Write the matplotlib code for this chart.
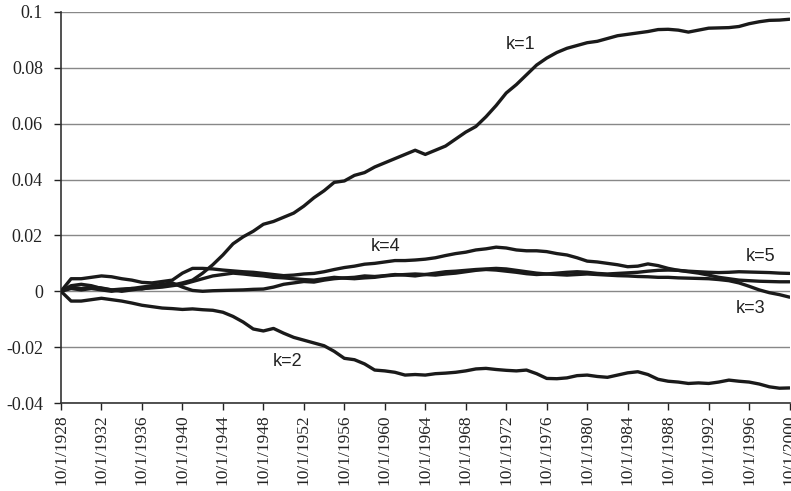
import matplotlib
matplotlib.use("Agg")
import matplotlib.pyplot as plt
from matplotlib import font_manager

# Annual observations, dated October 1 of each year
years = list(range(1928, 2001))

k1 = [0.000, 0.001, 0.0005, 0.001, 0.0005, 0.000, 0.0005, 0.001, 0.0008, 0.0015,
      0.002, 0.0022, 0.003, 0.004, 0.0065, 0.0095, 0.013, 0.017, 0.0195, 0.0215,
      0.024, 0.025, 0.0265, 0.028, 0.0305, 0.0335, 0.036, 0.039, 0.0395, 0.0415,
      0.0425, 0.0445, 0.046, 0.0475, 0.049, 0.0505, 0.049, 0.0505, 0.052, 0.0545,
      0.057, 0.059, 0.0625, 0.0665, 0.071, 0.074, 0.0775, 0.081, 0.0835, 0.0855,
      0.087, 0.088, 0.089, 0.0895, 0.0905, 0.0915, 0.092, 0.0925, 0.093, 0.0937,
      0.0938, 0.0935, 0.0928, 0.0935, 0.0942, 0.0943, 0.0944, 0.0948, 0.0958, 0.0965,
      0.097, 0.0971, 0.0974]

k2 = [0.000, -0.0035, -0.0035, -0.003, -0.0025, -0.003, -0.0035, -0.0042, -0.005, -0.0055,
      -0.006, -0.0062, -0.0065, -0.0063, -0.0066, -0.0068, -0.0075, -0.009, -0.011, -0.0135,
      -0.0142, -0.0133, -0.015, -0.0165, -0.0175, -0.0185, -0.0195, -0.0215, -0.024, -0.0245,
      -0.026, -0.0282, -0.0285, -0.029, -0.030, -0.0298, -0.030, -0.0295, -0.0293, -0.029,
      -0.0285, -0.0278, -0.0276, -0.028, -0.0283, -0.0285, -0.0282, -0.0295, -0.0312, -0.0313,
      -0.031, -0.0302, -0.030, -0.0305, -0.0308, -0.030, -0.0292, -0.0288, -0.0298, -0.0315,
      -0.0322, -0.0325, -0.033, -0.0328, -0.033, -0.0325, -0.0318, -0.0322, -0.0325, -0.0332,
      -0.0342, -0.0347, -0.0346]

k3 = [0.000, 0.0015, 0.001, 0.0015, 0.0012, 0.0005, 0.0008, 0.001, 0.0015, 0.002,
      0.0025, 0.003, 0.0015, 0.0003, 0.000, 0.0002, 0.0003, 0.0004, 0.0005, 0.0007,
      0.0008, 0.0015, 0.0025, 0.003, 0.0035, 0.0033, 0.004, 0.0045, 0.0048, 0.005,
      0.0055, 0.0053, 0.0056, 0.006, 0.0058, 0.0055, 0.006, 0.0065, 0.007, 0.0072,
      0.0075, 0.0078, 0.008, 0.0082, 0.008, 0.0075, 0.007, 0.0065, 0.0062, 0.006,
      0.0058, 0.006, 0.0062, 0.006, 0.0058, 0.0056, 0.0055, 0.0053, 0.0052, 0.005,
      0.005, 0.0048, 0.0047, 0.0046, 0.0045, 0.0042, 0.0038, 0.003, 0.0018, 0.0005,
      -0.0005, -0.0012, -0.0021]

k4 = [0.000, 0.0045, 0.0045, 0.005, 0.0055, 0.0052, 0.0045, 0.004, 0.0032, 0.003,
      0.0035, 0.004, 0.0065, 0.0082, 0.0082, 0.008, 0.0076, 0.0073, 0.007, 0.0068,
      0.0064, 0.006, 0.0056, 0.0058, 0.0062, 0.0064, 0.007, 0.0078, 0.0085, 0.009,
      0.0097, 0.010, 0.0105, 0.011, 0.011, 0.0112, 0.0115, 0.012, 0.0128, 0.0135,
      0.014, 0.0148, 0.0152, 0.0158, 0.0155, 0.0148, 0.0145, 0.0145, 0.0142, 0.0135,
      0.013, 0.012, 0.0108, 0.0105, 0.010, 0.0095, 0.0088, 0.009, 0.0098, 0.0092,
      0.0082, 0.0075, 0.007, 0.0065, 0.0058, 0.005, 0.0045, 0.004, 0.0038, 0.0036,
      0.0035, 0.0034, 0.0034]

k5 = [0.000, 0.002, 0.0025, 0.002, 0.001, 0.0005, 0.000, 0.0005, 0.001, 0.0012,
      0.0015, 0.002, 0.0025, 0.0035, 0.0045, 0.0055, 0.006, 0.0065, 0.0062, 0.0058,
      0.0055, 0.005, 0.0048, 0.0045, 0.0042, 0.004, 0.0045, 0.005, 0.0047, 0.0045,
      0.0048, 0.005, 0.0055, 0.0058, 0.006, 0.0062, 0.006, 0.0058, 0.0062, 0.0065,
      0.007, 0.0075, 0.0078, 0.0076, 0.0072, 0.0068, 0.0063, 0.006, 0.0062, 0.0065,
      0.0068, 0.007, 0.0068, 0.0064, 0.0062, 0.0064, 0.0066, 0.0068, 0.0072, 0.0075,
      0.0076, 0.0075, 0.0072, 0.007, 0.0068, 0.0067, 0.0068, 0.007, 0.0069, 0.0068,
      0.0067, 0.0065, 0.0064]

series = {"k=1": k1, "k=2": k2, "k=3": k3, "k=4": k4, "k=5": k5}

# Where each curve's name is written (year, value)
label_pos = {"k=1": (1974.2, 0.0885), "k=2": (1951.1, -0.0253),
             "k=3": (1996.9, -0.0062), "k=4": (1960.8, 0.0159),
             "k=5": (1997.9, 0.0123)}

tick_years = list(range(1928, 2001, 4))
tick_labels = [f"10/1/{y}" for y in tick_years]
y_ticks = [-0.04, -0.02, 0, 0.02, 0.04, 0.06, 0.08, 0.1]
y_labels = ["-0.04", "-0.02", "0", "0.02", "0.04", "0.06", "0.08", "0.1"]

# Pick a Times-like face for the axis numbers
serif_names = {f.name for f in font_manager.fontManager.ttflist}
serif_face = next((n for n in ["Liberation Serif", "Times New Roman", "DejaVu Serif"]
                   if n in serif_names), "serif")
tick_font = font_manager.FontProperties(family=serif_face)

# October 1 sits three quarters of the way through the year
xs = [y + 0.75 for y in years]

fig = plt.figure(figsize=(7.91, 4.91), dpi=100)
ax = fig.add_axes([0.0771, 0.1792, 0.9211, 0.7964])

for name, vals in series.items():
    ax.plot(xs, vals, color="#1a1a1a", lw=2.4, solid_joinstyle="round",
            solid_capstyle="round", zorder=3)

for name, (lx, ly) in label_pos.items():
    ax.text(lx, ly, name, ha="center", va="center", fontsize=13,
            family="Liberation Sans", color="#222222", zorder=4)

ax.set_xlim(1928.75, 2000.75)
ax.set_ylim(-0.04, 0.1)

ax.set_yticks(y_ticks)
ax.set_yticklabels(y_labels)
ax.set_xticks([y + 0.75 for y in tick_years])
ax.set_xticklabels(tick_labels, rotation=90, ha="center", va="top")
for lab in ax.get_yticklabels():
    lab.set_fontproperties(tick_font)
    lab.set_fontsize(13)
for lab in ax.get_xticklabels():
    lab.set_fontproperties(tick_font)
    lab.set_fontsize(12.5)

ax.yaxis.grid(True, color="#888888", lw=1.0)
ax.xaxis.grid(False)
ax.set_axisbelow(True)

for side in ("top", "right"):
    ax.spines[side].set_visible(False)
for side in ("left", "bottom"):
    ax.spines[side].set_color("#333333")
    ax.spines[side].set_linewidth(1.2)

ax.tick_params(axis="y", direction="out", length=5, width=1, pad=8,
               colors="#222222")
ax.tick_params(axis="x", direction="out", length=5, width=1, pad=3,
               colors="#222222")

fig.savefig("out.png", dpi=100)
